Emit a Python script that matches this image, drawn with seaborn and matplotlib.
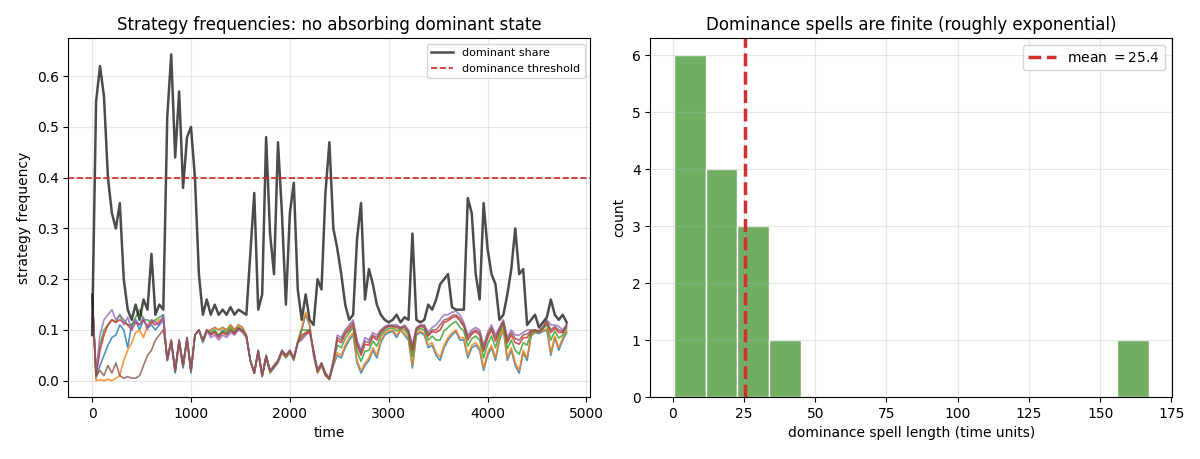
import numpy as np
import pandas as pd
import seaborn as sns
import matplotlib
matplotlib.use("Agg")
import matplotlib.pyplot as plt

# time step of the sampled series
step = 40

# dominant share (max strategy frequency), sampled every 40 time units
dominant = [
    .09, .55, .62, .56, .40, .33, .30, .35, .20, .14,
    .12, .15, .12, .16, .14, .25, .13, .15, .14, .52,
    .643, .44, .57, .38, .48, .50, .40, .21, .13, .16,
    .13, .15, .13, .14, .13, .145, .13, .14, .135, .13,
    .25, .37, .14, .17, .48, .29, .21, .47, .33, .15,
    .33, .39, .18, .12, .17, .12, .11, .20, .18, .37,
    .47, .30, .26, .21, .15, .12, .13, .28, .35, .16,
    .22, .19, .15, .13, .12, .115, .12, .13, .115, .125,
    .12, .29, .12, .115, .12, .15, .14, .16, .19, .20,
    .21, .145, .14, .14, .14, .36, .33, .21, .16, .35,
    .26, .21, .19, .12, .13, .17, .22, .30, .21, .22,
    .11, .12, .13, .105, .115, .125, .16, .13, .12, .13,
    .115,
]

strat_blue = [
    .17, .005, .03, .05, .07, .085, .09, .11, .10, .065,
    .11, .12, .10, .12, .105, .11, .10, .11, .12, .04,
    .075, .015, .075, .025, .08, .015, .09, .10, .075, .095,
    .10, .105, .10, .105, .10, .11, .10, .11, .105, .09,
    .04, .015, .055, .008, .045, .015, .025, .035, .055, .045,
    .055, .04, .075, .10, .13, .11, .05, .015, .03, .01,
    .002, .03, .05, .045, .065, .08, .09, .035, .015, .03,
    .04, .06, .045, .075, .09, .095, .097, .085, .10, .09,
    .08, .025, .09, .095, .09, .065, .07, .05, .04, .065,
    .08, .09, .097, .08, .08, .045, .065, .07, .06, .02,
    .05, .065, .04, .08, .10, .04, .06, .03, .015, .055,
    .04, .088, .095, .093, .097, .10, .05, .085, .06, .08,
    .095,
]

strat_orange = [
    .17, .0, .002, .0, .003, .0, .005, .01, .04, .06,
    .075, .095, .10, .085, .11, .12, .115, .12, .12, .04,
    .078, .018, .078, .028, .082, .018, .09, .10, .078, .097,
    .10, .105, .10, .105, .10, .11, .10, .11, .105, .09,
    .04, .015, .056, .009, .046, .016, .027, .037, .056, .046,
    .056, .042, .078, .105, .135, .11, .052, .016, .03, .01,
    .003, .033, .055, .05, .07, .085, .095, .04, .02, .035,
    .045, .065, .05, .08, .093, .098, .10, .09, .10, .093,
    .085, .03, .093, .098, .093, .07, .075, .055, .047, .07,
    .085, .094, .10, .085, .084, .05, .07, .075, .065, .025,
    .055, .07, .045, .084, .102, .045, .065, .035, .02, .06,
    .045, .09, .097, .095, .099, .102, .055, .088, .065, .085,
    .098,
]

strat_green = [
    .17, .01, .07, .10, .11, .12, .115, .13, .12, .11,
    .11, .125, .14, .12, .12, .115, .12, .125, .13, .04,
    .078, .018, .078, .028, .083, .018, .09, .10, .078, .098,
    .095, .10, .09, .10, .095, .105, .095, .105, .10, .088,
    .04, .015, .058, .009, .048, .018, .028, .038, .058, .048,
    .058, .043, .076, .10, .10, .10, .055, .018, .033, .012,
    .004, .035, .07, .065, .083, .095, .105, .058, .038, .058,
    .06, .078, .068, .088, .098, .103, .104, .098, .103, .10,
    .09, .048, .098, .103, .10, .08, .088, .08, .08, .098,
    .105, .112, .117, .105, .098, .068, .083, .088, .08, .045,
    .072, .088, .065, .093, .11, .063, .08, .06, .052, .075,
    .07, .094, .098, .096, .102, .11, .08, .098, .084, .09,
    .104,
]

strat_red = [
    .17, .01, .06, .09, .11, .12, .115, .12, .115, .11,
    .10, .115, .11, .12, .105, .115, .11, .115, .125, .04,
    .08, .02, .08, .03, .084, .02, .09, .10, .08, .10,
    .09, .095, .085, .095, .09, .10, .092, .103, .098, .087,
    .04, .015, .059, .01, .049, .019, .029, .039, .059, .049,
    .059, .044, .075, .09, .095, .10, .058, .019, .034, .013,
    .004, .037, .08, .075, .092, .10, .11, .07, .05, .072,
    .07, .087, .08, .094, .103, .107, .107, .104, .104, .105,
    .095, .06, .101, .107, .105, .088, .097, .095, .10, .115,
    .118, .124, .127, .118, .107, .08, .092, .097, .09, .058,
    .084, .10, .078, .099, .115, .075, .09, .075, .072, .085,
    .085, .097, .099, .097, .104, .115, .095, .104, .095, .095,
    .108,
]

strat_purple = [
    .17, .02, .09, .12, .13, .14, .12, .13, .11, .125,
    .10, .12, .11, .125, .10, .12, .115, .11, .13, .04,
    .08, .02, .08, .03, .085, .02, .09, .10, .08, .10,
    .085, .09, .08, .09, .085, .095, .09, .10, .095, .085,
    .04, .015, .06, .01, .05, .02, .03, .04, .06, .05,
    .06, .045, .075, .08, .09, .095, .06, .02, .035, .015,
    .005, .04, .09, .085, .10, .11, .12, .08, .06, .085,
    .08, .095, .09, .10, .107, .11, .11, .11, .105, .11,
    .10, .07, .105, .11, .11, .095, .105, .11, .12, .13,
    .13, .135, .137, .13, .115, .09, .10, .105, .10, .07,
    .095, .11, .09, .105, .12, .085, .10, .09, .09, .095,
    .10, .10, .10, .098, .107, .12, .11, .11, .107, .10,
    .112,
]

strat_brown = [
    .17, .01, .02, .01, .03, .015, .035, .01, .005, .008,
    .005, .005, .01, .03, .05, .06, .08, .09, .10, .045,
    .08, .02, .08, .03, .085, .02, .09, .10, .08, .10,
    .092, .097, .088, .097, .092, .10, .094, .104, .099, .088,
    .04, .015, .06, .01, .05, .02, .03, .04, .06, .05,
    .06, .045, .075, .085, .092, .098, .06, .02, .035, .015,
    .005, .038, .085, .08, .096, .105, .115, .075, .055, .078,
    .075, .09, .085, .097, .105, .108, .108, .107, .104, .107,
    .098, .065, .103, .108, .108, .09, .10, .10, .11, .12,
    .122, .128, .13, .123, .11, .085, .095, .10, .095, .063,
    .09, .105, .084, .102, .117, .08, .095, .083, .08, .09,
    .092, .099, .10, .098, .105, .117, .10, .107, .10, .097,
    .11,
]

strategies = [
    ("tab:blue", strat_blue),
    ("tab:orange", strat_orange),
    ("tab:green", strat_green),
    ("tab:red", strat_red),
    ("tab:purple", strat_purple),
    ("tab:brown", strat_brown),
]

threshold = 0.4

# lengths of the dominance spells (time units)
spell_lengths = [0.5, 2, 3, 5, 6, 7.5, 13, 15, 18, 21, 24, 28, 31, 40, 167]
mean_spell = np.mean(spell_lengths)

fig, (ax1, ax2) = plt.subplots(1, 2, figsize=(12, 4.59), dpi=100)
fig.subplots_adjust(left=0.057, right=0.977, bottom=0.135, top=0.917,
                    wspace=0.115)

# left: strategy frequencies over time
for color, vals in strategies:
    t = np.arange(len(vals)) * step
    sns.lineplot(x=t, y=vals, ax=ax1, color=color, lw=1.2, alpha=0.8)

t_dom = np.arange(len(dominant)) * step
sns.lineplot(x=t_dom, y=dominant, ax=ax1, color="k", lw=1.8, alpha=0.7,
             label="dominant share")
ax1.axhline(threshold, color="tab:red", ls="--", lw=1.2,
            label="dominance threshold")
ax1.set_title("Strategy frequencies: no absorbing dominant state")
ax1.set_xlabel("time")
ax1.set_ylabel("strategy frequency")
ax1.grid(alpha=0.3)
ax1.legend(loc="upper right", fontsize=8)

# right: spell length histogram
sns.histplot(x=spell_lengths, bins=15, ax=ax2, color="#72ae62", alpha=1,
             edgecolor="white")
ax2.axvline(mean_spell, color="#d03030", ls="--", lw=2.5,
            label=f"mean $={mean_spell:.1f}$")
ax2.set_title("Dominance spells are finite (roughly exponential)")
ax2.set_xlabel("dominance spell length (time units)")
ax2.set_ylabel("count")
ax2.grid(alpha=0.3)
ax2.legend(loc="upper right")

plt.savefig("out.png")
